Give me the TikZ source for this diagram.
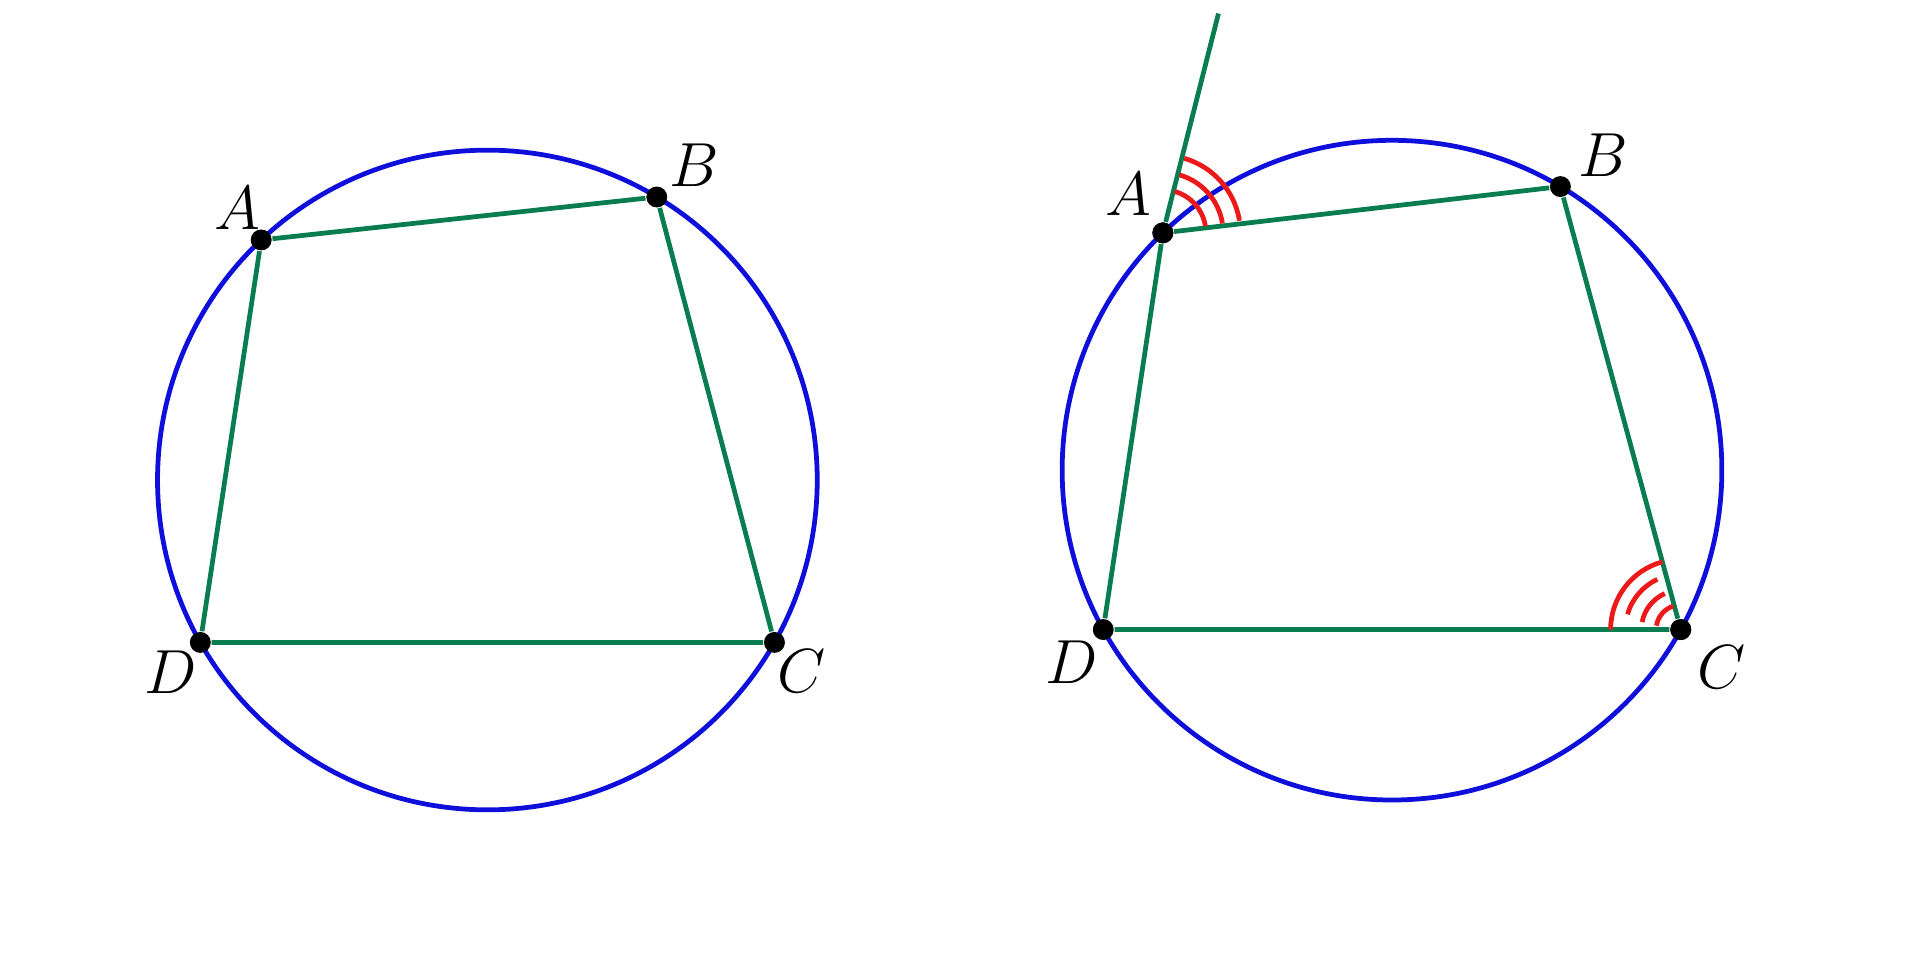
\documentclass[tikz,border=0pt]{standalone}
\usepackage{amsmath}
\usepackage{xcolor}
\usetikzlibrary{positioning}
\definecolor{circblue}{RGB}{15,15,220}
\definecolor{sidegreen}{RGB}{10,125,80}
\definecolor{markred}{RGB}{235,25,25}
\tikzset{
  circ/.style={circblue, line width=1.1pt},
  side/.style={sidegreen, line width=1.1pt},
  angmark/.style={markred, line width=1.1pt},
  pt/.style={circle, fill=black, inner sep=0pt, minimum size=1.7mm},
  lbl/.style={font=\fontsize{14}{16}\selectfont}
}

\begin{document}
\begin{tikzpicture}[x=0.01cm,y=0.01cm]

\useasboundingbox (0,0) rectangle (1560,784);

% left figure
\begin{scope}[shift={(396,394)}]
\draw[circ] (0,0) circle [radius=268];

\node[pt] (A) at (133.3:268) {};
\node[pt] (B) at (59.1:268) {};
\node[pt] (C) at (-29.5:268) {};
\node[pt] (D) at (209.5:268) {};

\draw[side] (A) -- (B) -- (C) -- (D) -- (A);
\end{scope}

\node[lbl] (lA) at (193,615) {$A$};
\node[lbl] (lB) at (564,650) {$B$};
\node[lbl] (lC) at (651,239) {$C$};
\node[lbl] (lD) at (139,238) {$D$};

% right figure
\coordinate (E) at (990,773);

\begin{scope}[shift={(1131,402)}]
\draw[circ] (0,0) circle [radius=268];

\node[pt] (A2) at (134.0:268) {};
\node[pt] (B2) at (59.3:268) {};
\node[pt] (C2) at (-28.9:268) {};
\node[pt] (D2) at (208.9:268) {};

\draw[side] (A2) -- (B2) -- (C2) -- (D2) -- (A2);
\end{scope}

\draw[side] (A2) -- (E);

%angle marks
\foreach \r in {35,49,63}
  \draw[angmark] ([shift={(9:\r)}]A2.center) arc [start angle=9, end angle=74, radius=\r];

\draw[angmark] ([shift={(105.2:57)}]C2.center) arc [start angle=105.2, end angle=180, radius=57];
\draw[angmark] ([shift={(115:45)}]C2.center) arc [start angle=115, end angle=164, radius=45];
\draw[angmark] ([shift={(114:32)}]C2.center) arc [start angle=114, end angle=169, radius=32];
\draw[angmark] ([shift={(108:20)}]C2.center) arc [start angle=108, end angle=171, radius=20];

\node[pt] at (A2) {};
\node[pt] at (C2) {};

\node[lbl] (lA2) at (917,626) {$A$};
\node[lbl] (lB2) at (1303,658) {$B$};
\node[lbl] (lC2) at (1399,242) {$C$};
\node[lbl] (lD2) at (871,246) {$D$};

\end{tikzpicture}
\end{document}
